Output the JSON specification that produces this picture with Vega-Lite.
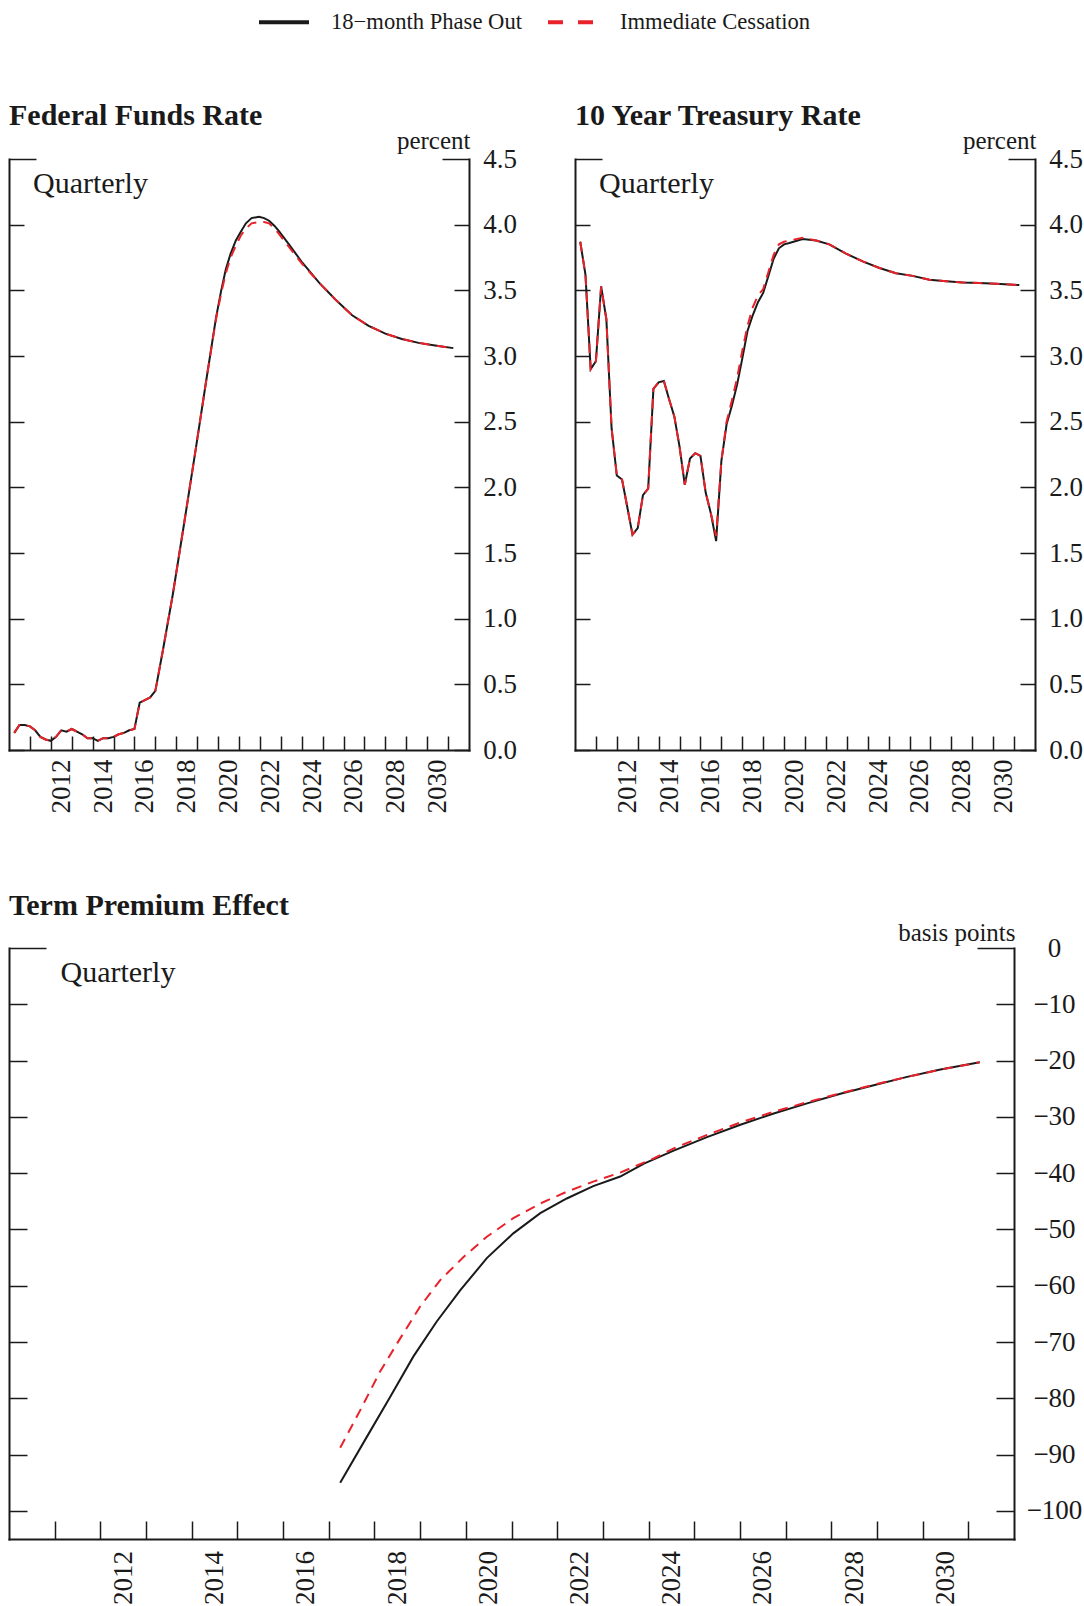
{
  "$schema": "https://vega.github.io/schema/vega-lite/v6.json",
  "background": "white",
  "padding": {"left": 8, "top": -5, "right": 0, "bottom": 0},
  "autosize": {"type": "pad"},
  "config": {
    "font": "Liberation Serif",
    "view": {"stroke": null},
    "axis": {"grid": false, "domainColor": "#1a1a1a", "domainWidth": 2, "domainCap": "square", "tickColor": "#1a1a1a", "tickWidth": 1.5, "labelColor": "#1a1a1a", "labelFont": "Liberation Serif", "labelFontSize": 27, "titleFont": "Liberation Serif", "titleColor": "#1a1a1a", "titleFontWeight": "normal", "labelFlush": false, "labelOverlap": false, "labelBound": false},
    "title": {"font": "Liberation Serif", "fontSize": 30, "fontWeight": "bold", "color": "#1a1a1a", "anchor": "start", "frame": "group", "offset": -3}
  },
  "datasets": {
    "ffr": [
      {"s":"P","t":2010.25,"v":0.13},{"s":"P","t":2010.5,"v":0.19},{"s":"P","t":2010.75,"v":0.19},{"s":"P","t":2011.0,"v":0.18},
      {"s":"P","t":2011.25,"v":0.15},{"s":"P","t":2011.5,"v":0.10},{"s":"P","t":2011.75,"v":0.08},{"s":"P","t":2012.0,"v":0.07},
      {"s":"P","t":2012.25,"v":0.10},{"s":"P","t":2012.5,"v":0.15},{"s":"P","t":2012.75,"v":0.14},{"s":"P","t":2013.0,"v":0.16},
      {"s":"P","t":2013.25,"v":0.14},{"s":"P","t":2013.5,"v":0.12},{"s":"P","t":2013.75,"v":0.09},{"s":"P","t":2014.0,"v":0.09},
      {"s":"P","t":2014.25,"v":0.07},{"s":"P","t":2014.5,"v":0.09},{"s":"P","t":2014.75,"v":0.09},{"s":"P","t":2015.0,"v":0.10},
      {"s":"P","t":2015.25,"v":0.12},{"s":"P","t":2015.5,"v":0.13},{"s":"P","t":2015.75,"v":0.15},{"s":"P","t":2016.0,"v":0.16},
      {"s":"P","t":2016.25,"v":0.36},{"s":"P","t":2016.5,"v":0.38},{"s":"P","t":2016.75,"v":0.40},{"s":"P","t":2017.0,"v":0.45},
      {"s":"P","t":2017.35,"v":0.75},{"s":"P","t":2017.83,"v":1.18},{"s":"P","t":2018.39,"v":1.74},{"s":"P","t":2018.94,"v":2.30},
      {"s":"P","t":2019.42,"v":2.80},{"s":"P","t":2019.9,"v":3.29},{"s":"P","t":2020.15,"v":3.50},{"s":"P","t":2020.37,"v":3.66},
      {"s":"P","t":2020.6,"v":3.78},{"s":"P","t":2020.85,"v":3.88},{"s":"P","t":2021.1,"v":3.95},{"s":"P","t":2021.33,"v":4.01},
      {"s":"P","t":2021.6,"v":4.05},{"s":"P","t":2021.96,"v":4.06},{"s":"P","t":2022.2,"v":4.05},{"s":"P","t":2022.44,"v":4.03},
      {"s":"P","t":2022.7,"v":3.99},{"s":"P","t":2022.91,"v":3.95},{"s":"P","t":2023.39,"v":3.85},{"s":"P","t":2024.03,"v":3.71},
      {"s":"P","t":2024.82,"v":3.56},{"s":"P","t":2025.61,"v":3.43},{"s":"P","t":2026.41,"v":3.31},{"s":"P","t":2027.2,"v":3.23},
      {"s":"P","t":2028.0,"v":3.17},{"s":"P","t":2028.79,"v":3.13},{"s":"P","t":2029.59,"v":3.10},{"s":"P","t":2030.38,"v":3.08},
      {"s":"P","t":2031.25,"v":3.06},
      {"s":"I","t":2010.25,"v":0.13},{"s":"I","t":2010.5,"v":0.19},{"s":"I","t":2010.75,"v":0.19},{"s":"I","t":2011.0,"v":0.18},
      {"s":"I","t":2011.25,"v":0.15},{"s":"I","t":2011.5,"v":0.10},{"s":"I","t":2011.75,"v":0.08},{"s":"I","t":2012.0,"v":0.07},
      {"s":"I","t":2012.25,"v":0.10},{"s":"I","t":2012.5,"v":0.15},{"s":"I","t":2012.75,"v":0.14},{"s":"I","t":2013.0,"v":0.16},
      {"s":"I","t":2013.25,"v":0.14},{"s":"I","t":2013.5,"v":0.12},{"s":"I","t":2013.75,"v":0.09},{"s":"I","t":2014.0,"v":0.09},
      {"s":"I","t":2014.25,"v":0.07},{"s":"I","t":2014.5,"v":0.09},{"s":"I","t":2014.75,"v":0.09},{"s":"I","t":2015.0,"v":0.10},
      {"s":"I","t":2015.25,"v":0.12},{"s":"I","t":2015.5,"v":0.13},{"s":"I","t":2015.75,"v":0.15},{"s":"I","t":2016.0,"v":0.16},
      {"s":"I","t":2016.25,"v":0.36},{"s":"I","t":2016.5,"v":0.38},{"s":"I","t":2016.75,"v":0.40},{"s":"I","t":2017.0,"v":0.45},
      {"s":"I","t":2017.35,"v":0.75},{"s":"I","t":2017.83,"v":1.18},{"s":"I","t":2018.39,"v":1.74},{"s":"I","t":2018.94,"v":2.30},
      {"s":"I","t":2019.42,"v":2.80},{"s":"I","t":2019.9,"v":3.28},{"s":"I","t":2020.15,"v":3.48},{"s":"I","t":2020.37,"v":3.63},
      {"s":"I","t":2020.6,"v":3.75},{"s":"I","t":2020.85,"v":3.84},{"s":"I","t":2021.1,"v":3.92},{"s":"I","t":2021.33,"v":3.97},
      {"s":"I","t":2021.6,"v":4.01},{"s":"I","t":2021.96,"v":4.02},{"s":"I","t":2022.2,"v":4.02},{"s":"I","t":2022.44,"v":4.01},
      {"s":"I","t":2022.7,"v":3.97},{"s":"I","t":2022.91,"v":3.93},{"s":"I","t":2023.39,"v":3.83},{"s":"I","t":2024.03,"v":3.70},
      {"s":"I","t":2024.82,"v":3.56},{"s":"I","t":2025.61,"v":3.43},{"s":"I","t":2026.41,"v":3.31},{"s":"I","t":2027.2,"v":3.23},
      {"s":"I","t":2028.0,"v":3.17},{"s":"I","t":2028.79,"v":3.13},{"s":"I","t":2029.59,"v":3.10},{"s":"I","t":2030.38,"v":3.08},
      {"s":"I","t":2031.25,"v":3.06}
    ],
    "tsy": [
      {"s":"P","t":2010.25,"v":3.87},{"s":"P","t":2010.5,"v":3.62},{"s":"P","t":2010.75,"v":2.90},{"s":"P","t":2011.0,"v":2.96},
      {"s":"P","t":2011.25,"v":3.53},{"s":"P","t":2011.5,"v":3.28},{"s":"P","t":2011.75,"v":2.45},{"s":"P","t":2012.0,"v":2.09},
      {"s":"P","t":2012.25,"v":2.06},{"s":"P","t":2012.5,"v":1.85},{"s":"P","t":2012.75,"v":1.64},{"s":"P","t":2013.0,"v":1.69},
      {"s":"P","t":2013.25,"v":1.94},{"s":"P","t":2013.5,"v":1.99},{"s":"P","t":2013.75,"v":2.75},{"s":"P","t":2014.0,"v":2.80},
      {"s":"P","t":2014.25,"v":2.81},{"s":"P","t":2014.5,"v":2.67},{"s":"P","t":2014.75,"v":2.54},{"s":"P","t":2015.0,"v":2.31},
      {"s":"P","t":2015.25,"v":2.02},{"s":"P","t":2015.5,"v":2.22},{"s":"P","t":2015.75,"v":2.26},{"s":"P","t":2016.0,"v":2.24},
      {"s":"P","t":2016.25,"v":1.96},{"s":"P","t":2016.5,"v":1.80},{"s":"P","t":2016.75,"v":1.59},{"s":"P","t":2017.0,"v":2.20},
      {"s":"P","t":2017.25,"v":2.48},{"s":"P","t":2017.5,"v":2.62},{"s":"P","t":2017.75,"v":2.78},{"s":"P","t":2018.0,"v":2.98},
      {"s":"P","t":2018.25,"v":3.19},{"s":"P","t":2018.5,"v":3.31},{"s":"P","t":2018.75,"v":3.41},{"s":"P","t":2019.0,"v":3.48},
      {"s":"P","t":2019.25,"v":3.61},{"s":"P","t":2019.5,"v":3.74},{"s":"P","t":2019.75,"v":3.82},{"s":"P","t":2020.0,"v":3.85},
      {"s":"P","t":2020.25,"v":3.86},{"s":"P","t":2020.89,"v":3.89},{"s":"P","t":2021.53,"v":3.88},{"s":"P","t":2022.16,"v":3.85},
      {"s":"P","t":2022.96,"v":3.78},{"s":"P","t":2023.76,"v":3.72},{"s":"P","t":2024.56,"v":3.67},{"s":"P","t":2025.35,"v":3.63},
      {"s":"P","t":2026.15,"v":3.61},{"s":"P","t":2026.95,"v":3.58},{"s":"P","t":2027.75,"v":3.57},{"s":"P","t":2028.54,"v":3.56},
      {"s":"P","t":2029.34,"v":3.555},{"s":"P","t":2030.14,"v":3.55},{"s":"P","t":2031.25,"v":3.54},
      {"s":"I","t":2010.25,"v":3.87},{"s":"I","t":2010.5,"v":3.62},{"s":"I","t":2010.75,"v":2.90},{"s":"I","t":2011.0,"v":2.96},
      {"s":"I","t":2011.25,"v":3.53},{"s":"I","t":2011.5,"v":3.28},{"s":"I","t":2011.75,"v":2.45},{"s":"I","t":2012.0,"v":2.09},
      {"s":"I","t":2012.25,"v":2.06},{"s":"I","t":2012.5,"v":1.85},{"s":"I","t":2012.75,"v":1.64},{"s":"I","t":2013.0,"v":1.69},
      {"s":"I","t":2013.25,"v":1.94},{"s":"I","t":2013.5,"v":1.99},{"s":"I","t":2013.75,"v":2.75},{"s":"I","t":2014.0,"v":2.80},
      {"s":"I","t":2014.25,"v":2.81},{"s":"I","t":2014.5,"v":2.67},{"s":"I","t":2014.75,"v":2.54},{"s":"I","t":2015.0,"v":2.31},
      {"s":"I","t":2015.25,"v":2.02},{"s":"I","t":2015.5,"v":2.22},{"s":"I","t":2015.75,"v":2.26},{"s":"I","t":2016.0,"v":2.24},
      {"s":"I","t":2016.25,"v":1.96},{"s":"I","t":2016.5,"v":1.80},{"s":"I","t":2016.75,"v":1.63},{"s":"I","t":2017.0,"v":2.20},
      {"s":"I","t":2017.25,"v":2.50},{"s":"I","t":2017.5,"v":2.66},{"s":"I","t":2017.75,"v":2.83},{"s":"I","t":2018.0,"v":3.04},
      {"s":"I","t":2018.25,"v":3.23},{"s":"I","t":2018.5,"v":3.37},{"s":"I","t":2018.75,"v":3.46},{"s":"I","t":2019.0,"v":3.51},
      {"s":"I","t":2019.25,"v":3.64},{"s":"I","t":2019.5,"v":3.77},{"s":"I","t":2019.75,"v":3.85},{"s":"I","t":2020.0,"v":3.87},
      {"s":"I","t":2020.25,"v":3.88},{"s":"I","t":2020.89,"v":3.90},{"s":"I","t":2021.53,"v":3.88},{"s":"I","t":2022.16,"v":3.85},
      {"s":"I","t":2022.96,"v":3.78},{"s":"I","t":2023.76,"v":3.72},{"s":"I","t":2024.56,"v":3.67},{"s":"I","t":2025.35,"v":3.63},
      {"s":"I","t":2026.15,"v":3.61},{"s":"I","t":2026.95,"v":3.58},{"s":"I","t":2027.75,"v":3.57},{"s":"I","t":2028.54,"v":3.56},
      {"s":"I","t":2029.34,"v":3.555},{"s":"I","t":2030.14,"v":3.55},{"s":"I","t":2031.25,"v":3.54}
    ],
    "tp": [
      {"s":"P","t":2017.25,"v":-95.0},{"s":"P","t":2017.83,"v":-86.9},{"s":"P","t":2018.34,"v":-79.8},{"s":"P","t":2018.85,"v":-72.6},
      {"s":"P","t":2019.36,"v":-66.4},{"s":"P","t":2019.88,"v":-60.8},{"s":"P","t":2020.46,"v":-55.1},{"s":"P","t":2021.04,"v":-50.7},
      {"s":"P","t":2021.63,"v":-47.1},{"s":"P","t":2022.21,"v":-44.5},{"s":"P","t":2022.79,"v":-42.3},{"s":"P","t":2023.38,"v":-40.6},
      {"s":"P","t":2023.9,"v":-38.3},{"s":"P","t":2024.55,"v":-36.0},{"s":"P","t":2025.28,"v":-33.6},{"s":"P","t":2026.01,"v":-31.4},
      {"s":"P","t":2026.74,"v":-29.4},{"s":"P","t":2027.47,"v":-27.6},{"s":"P","t":2028.2,"v":-25.9},{"s":"P","t":2028.93,"v":-24.4},
      {"s":"P","t":2029.66,"v":-22.9},{"s":"P","t":2030.39,"v":-21.6},{"s":"P","t":2031.25,"v":-20.3},
      {"s":"I","t":2017.25,"v":-88.8},{"s":"I","t":2017.69,"v":-82.1},{"s":"I","t":2018.12,"v":-75.3},{"s":"I","t":2018.56,"v":-69.4},
      {"s":"I","t":2019.0,"v":-63.7},{"s":"I","t":2019.44,"v":-59.0},{"s":"I","t":2019.95,"v":-54.9},{"s":"I","t":2020.46,"v":-51.3},
      {"s":"I","t":2021.04,"v":-48.0},{"s":"I","t":2021.63,"v":-45.4},{"s":"I","t":2022.21,"v":-43.3},{"s":"I","t":2022.79,"v":-41.5},
      {"s":"I","t":2023.38,"v":-39.9},{"s":"I","t":2024.11,"v":-37.4},{"s":"I","t":2024.55,"v":-35.6},{"s":"I","t":2025.28,"v":-33.2},
      {"s":"I","t":2026.01,"v":-31.0},{"s":"I","t":2026.74,"v":-29.1},{"s":"I","t":2027.47,"v":-27.4},{"s":"I","t":2028.2,"v":-25.8},
      {"s":"I","t":2028.93,"v":-24.3},{"s":"I","t":2029.66,"v":-22.9},{"s":"I","t":2030.39,"v":-21.6},{"s":"I","t":2031.25,"v":-20.3}
    ]
  },
  "spacing": 789,
  "bounds": "flush",
  "vconcat": [
    {
      "hconcat": [
        {
          "width": 460, "height": 591,
          "title": {"text": "Federal Funds Rate"},
          "data": {"name": "ffr"},
          "resolve": {"axis": {"y": "independent"}},
          "layer": [
            {
              "transform": [{"filter": "datum.s == 'P'"}],
              "mark": {"type": "line", "strokeWidth": 2},
              "encoding": {
                "x": {"field": "t", "type": "quantitative", "scale": {"domain": [2010, 2032], "nice": false, "zero": false},
                  "axis": {"values": [2011,2012,2013,2014,2015,2016,2017,2018,2019,2020,2021,2022,2023,2024,2025,2026,2027,2028,2029,2030,2031], "format": "d", "labelExpr": "datum.value % 2 == 0 ? datum.label : ''", "labelAngle": 270, "labelAlign": "right", "labelBaseline": "middle", "labelOffset": 10.45, "labelPadding": 23, "tickSize": -14, "title": null}},
                "y": {"field": "v", "type": "quantitative", "scale": {"domain": [0, 4.5], "nice": false, "zero": false},
                  "axis": {"orient": "right", "values": [0,0.5,1,1.5,2,2.5,3,3.5,4,4.5], "format": ".1f", "tickSize": {"condition": {"test": "datum.value == 4.5", "value": -27}, "value": -15}, "labelPadding": {"condition": {"test": "datum.value == 4.5", "value": 57.5}, "value": 45.5}, "labelAlign": "center", "labelBaseline": "middle", "title": "percent", "titleAngle": 0, "titleAlign": "right", "titleBaseline": "alphabetic", "titleX": 1, "titleY": -11, "titleFontSize": 25}},
                "color": {"field": "s", "type": "nominal", "scale": {"domain": ["P", "I"], "range": ["#1a1a1a", "#e8222a"]},
                  "legend": {"orient": "none", "legendX": 248, "legendY": -164, "direction": "horizontal", "title": null, "labelExpr": "datum.value == 'P' ? '18−month Phase Out' : 'Immediate Cessation'", "labelFont": "Liberation Serif", "labelFontSize": 22.6, "labelLimit": 0, "labelColor": "#1a1a1a", "symbolType": "stroke", "symbolSize": 2500, "symbolStrokeWidth": 4, "labelOffset": 20, "columnPadding": 18, "padding": 0, "encode": {"symbols": {"update": {"strokeDash": {"signal": "datum.value == 'I' ? [15, 15] : [1, 0]"}}}}}}
              }
            },
            {
              "transform": [{"filter": "datum.s == 'I'"}],
              "mark": {"type": "line", "strokeWidth": 2, "strokeDash": [10, 7]},
              "encoding": {
                "x": {"field": "t", "type": "quantitative",
                  "axis": {"values": [2011,2012,2013,2014,2015,2016,2017,2018,2019,2020,2021,2022,2023,2024,2025,2026,2027,2028,2029,2030,2031], "format": "d", "labelExpr": "datum.value % 2 == 0 ? datum.label : ''", "labelAngle": 270, "labelAlign": "right", "labelBaseline": "middle", "labelOffset": 10.45, "labelPadding": 23, "tickSize": -14, "title": null}},
                "y": {"field": "v", "type": "quantitative",
                  "axis": {"orient": "left", "values": [0,0.5,1,1.5,2,2.5,3,3.5,4,4.5], "labels": false, "tickSize": {"condition": {"test": "datum.value == 4.5", "value": -27}, "value": -15}, "title": "Quarterly", "titleAngle": 0, "titleAlign": "left", "titleBaseline": "alphabetic", "titleX": 23.5, "titleY": 33, "titleFontSize": 30}},
                "color": {"field": "s", "type": "nominal", "scale": {"domain": ["P", "I"], "range": ["#1a1a1a", "#e8222a"]},
                  "legend": {"orient": "none", "legendX": 248, "legendY": -164, "direction": "horizontal", "title": null, "labelExpr": "datum.value == 'P' ? '18−month Phase Out' : 'Immediate Cessation'", "labelFont": "Liberation Serif", "labelFontSize": 22.6, "labelLimit": 0, "labelColor": "#1a1a1a", "symbolType": "stroke", "symbolSize": 2500, "symbolStrokeWidth": 4, "labelOffset": 20, "columnPadding": 18, "padding": 0, "encode": {"symbols": {"update": {"strokeDash": {"signal": "datum.value == 'I' ? [15, 15] : [1, 0]"}}}}}}
              }
            }
          ]
        },
        {
          "width": 460, "height": 591,
          "title": {"text": "10 Year Treasury Rate"},
          "data": {"name": "tsy"},
          "resolve": {"axis": {"y": "independent"}},
          "layer": [
            {
              "transform": [{"filter": "datum.s == 'P'"}],
              "mark": {"type": "line", "strokeWidth": 2},
              "encoding": {
                "x": {"field": "t", "type": "quantitative", "scale": {"domain": [2010, 2032], "nice": false, "zero": false},
                  "axis": {"values": [2011,2012,2013,2014,2015,2016,2017,2018,2019,2020,2021,2022,2023,2024,2025,2026,2027,2028,2029,2030,2031], "format": "d", "labelExpr": "datum.value % 2 == 0 ? datum.label : ''", "labelAngle": 270, "labelAlign": "right", "labelBaseline": "middle", "labelOffset": 10.45, "labelPadding": 23, "tickSize": -14, "title": null}},
                "y": {"field": "v", "type": "quantitative", "scale": {"domain": [0, 4.5], "nice": false, "zero": false},
                  "axis": {"orient": "right", "values": [0,0.5,1,1.5,2,2.5,3,3.5,4,4.5], "format": ".1f", "tickSize": {"condition": {"test": "datum.value == 4.5", "value": -27}, "value": -15}, "labelPadding": {"condition": {"test": "datum.value == 4.5", "value": 57.5}, "value": 45.5}, "labelAlign": "center", "labelBaseline": "middle", "title": "percent", "titleAngle": 0, "titleAlign": "right", "titleBaseline": "alphabetic", "titleX": 1, "titleY": -11, "titleFontSize": 25}},
                "color": {"field": "s", "type": "nominal", "scale": {"domain": ["P", "I"], "range": ["#1a1a1a", "#e8222a"]},
                  "legend": {"orient": "none", "legendX": 248, "legendY": -164, "direction": "horizontal", "title": null, "labelExpr": "datum.value == 'P' ? '18−month Phase Out' : 'Immediate Cessation'", "labelFont": "Liberation Serif", "labelFontSize": 22.6, "labelLimit": 0, "labelColor": "#1a1a1a", "symbolType": "stroke", "symbolSize": 2500, "symbolStrokeWidth": 4, "labelOffset": 20, "columnPadding": 18, "padding": 0, "encode": {"symbols": {"update": {"strokeDash": {"signal": "datum.value == 'I' ? [15, 15] : [1, 0]"}}}}}}
              }
            },
            {
              "transform": [{"filter": "datum.s == 'I'"}],
              "mark": {"type": "line", "strokeWidth": 2, "strokeDash": [10, 7]},
              "encoding": {
                "x": {"field": "t", "type": "quantitative",
                  "axis": {"values": [2011,2012,2013,2014,2015,2016,2017,2018,2019,2020,2021,2022,2023,2024,2025,2026,2027,2028,2029,2030,2031], "format": "d", "labelExpr": "datum.value % 2 == 0 ? datum.label : ''", "labelAngle": 270, "labelAlign": "right", "labelBaseline": "middle", "labelOffset": 10.45, "labelPadding": 23, "tickSize": -14, "title": null}},
                "y": {"field": "v", "type": "quantitative",
                  "axis": {"orient": "left", "values": [0,0.5,1,1.5,2,2.5,3,3.5,4,4.5], "labels": false, "tickSize": {"condition": {"test": "datum.value == 4.5", "value": -27}, "value": -15}, "title": "Quarterly", "titleAngle": 0, "titleAlign": "left", "titleBaseline": "alphabetic", "titleX": 23.5, "titleY": 33, "titleFontSize": 30}},
                "color": {"field": "s", "type": "nominal", "scale": {"domain": ["P", "I"], "range": ["#1a1a1a", "#e8222a"]},
                  "legend": {"orient": "none", "legendX": 248, "legendY": -164, "direction": "horizontal", "title": null, "labelExpr": "datum.value == 'P' ? '18−month Phase Out' : 'Immediate Cessation'", "labelFont": "Liberation Serif", "labelFontSize": 22.6, "labelLimit": 0, "labelColor": "#1a1a1a", "symbolType": "stroke", "symbolSize": 2500, "symbolStrokeWidth": 4, "labelOffset": 20, "columnPadding": 18, "padding": 0, "encode": {"symbols": {"update": {"strokeDash": {"signal": "datum.value == 'I' ? [15, 15] : [1, 0]"}}}}}}
              }
            }
          ]
        }
      ],
      "spacing": 106,
      "bounds": "flush"
    },
    {
      "width": 1005, "height": 591,
      "title": {"text": "Term Premium Effect", "offset": -1},
      "data": {"name": "tp"},
      "resolve": {"axis": {"y": "independent"}},
      "layer": [
        {
          "transform": [{"filter": "datum.s == 'P'"}],
          "mark": {"type": "line", "strokeWidth": 2},
          "encoding": {
            "x": {"field": "t", "type": "quantitative", "scale": {"domain": [2010, 2032], "nice": false, "zero": false},
              "axis": {"values": [2011,2012,2013,2014,2015,2016,2017,2018,2019,2020,2021,2022,2023,2024,2025,2026,2027,2028,2029,2030,2031], "format": "d", "labelExpr": "datum.value % 2 == 0 ? datum.label : ''", "labelAngle": 270, "labelAlign": "right", "labelBaseline": "middle", "labelOffset": 22.8, "labelPadding": 29.5, "tickSize": -18, "title": null}},
            "y": {"field": "v", "type": "quantitative", "scale": {"domain": [-105, 0], "nice": false, "zero": false},
              "axis": {"orient": "right", "values": [0,-10,-20,-30,-40,-50,-60,-70,-80,-90,-100], "format": "d", "tickSize": {"condition": {"test": "datum.value == 0", "value": -37}, "value": -18}, "labelPadding": {"condition": {"test": "datum.value == 0", "value": 77}, "value": 58}, "labelAlign": "center", "labelBaseline": "middle", "title": "basis points", "titleAngle": 0, "titleAlign": "right", "titleBaseline": "alphabetic", "titleX": 1, "titleY": -8, "titleFontSize": 25}},
            "color": {"field": "s", "type": "nominal", "scale": {"domain": ["P", "I"], "range": ["#1a1a1a", "#e8222a"]},
              "legend": {"orient": "none", "legendX": 248, "legendY": -164, "direction": "horizontal", "title": null, "labelExpr": "datum.value == 'P' ? '18−month Phase Out' : 'Immediate Cessation'", "labelFont": "Liberation Serif", "labelFontSize": 22.6, "labelLimit": 0, "labelColor": "#1a1a1a", "symbolType": "stroke", "symbolSize": 2500, "symbolStrokeWidth": 4, "labelOffset": 20, "columnPadding": 18, "padding": 0, "encode": {"symbols": {"update": {"strokeDash": {"signal": "datum.value == 'I' ? [15, 15] : [1, 0]"}}}}}}
          }
        },
        {
          "transform": [{"filter": "datum.s == 'I'"}],
          "mark": {"type": "line", "strokeWidth": 2, "strokeDash": [10, 7]},
          "encoding": {
            "x": {"field": "t", "type": "quantitative",
              "axis": {"values": [2011,2012,2013,2014,2015,2016,2017,2018,2019,2020,2021,2022,2023,2024,2025,2026,2027,2028,2029,2030,2031], "format": "d", "labelExpr": "datum.value % 2 == 0 ? datum.label : ''", "labelAngle": 270, "labelAlign": "right", "labelBaseline": "middle", "labelOffset": 22.8, "labelPadding": 29.5, "tickSize": -18, "title": null}},
            "y": {"field": "v", "type": "quantitative",
              "axis": {"orient": "left", "values": [0,-10,-20,-30,-40,-50,-60,-70,-80,-90,-100], "labels": false, "tickSize": {"condition": {"test": "datum.value == 0", "value": -37}, "value": -18}, "title": "Quarterly", "titleAngle": 0, "titleAlign": "left", "titleBaseline": "alphabetic", "titleX": 51, "titleY": 33, "titleFontSize": 30}},
            "color": {"field": "s", "type": "nominal", "scale": {"domain": ["P", "I"], "range": ["#1a1a1a", "#e8222a"]},
              "legend": {"orient": "none", "legendX": 248, "legendY": -164, "direction": "horizontal", "title": null, "labelExpr": "datum.value == 'P' ? '18−month Phase Out' : 'Immediate Cessation'", "labelFont": "Liberation Serif", "labelFontSize": 22.6, "labelLimit": 0, "labelColor": "#1a1a1a", "symbolType": "stroke", "symbolSize": 2500, "symbolStrokeWidth": 4, "labelOffset": 20, "columnPadding": 18, "padding": 0, "encode": {"symbols": {"update": {"strokeDash": {"signal": "datum.value == 'I' ? [15, 15] : [1, 0]"}}}}}}
          }
        }
      ]
    }
  ]
}
